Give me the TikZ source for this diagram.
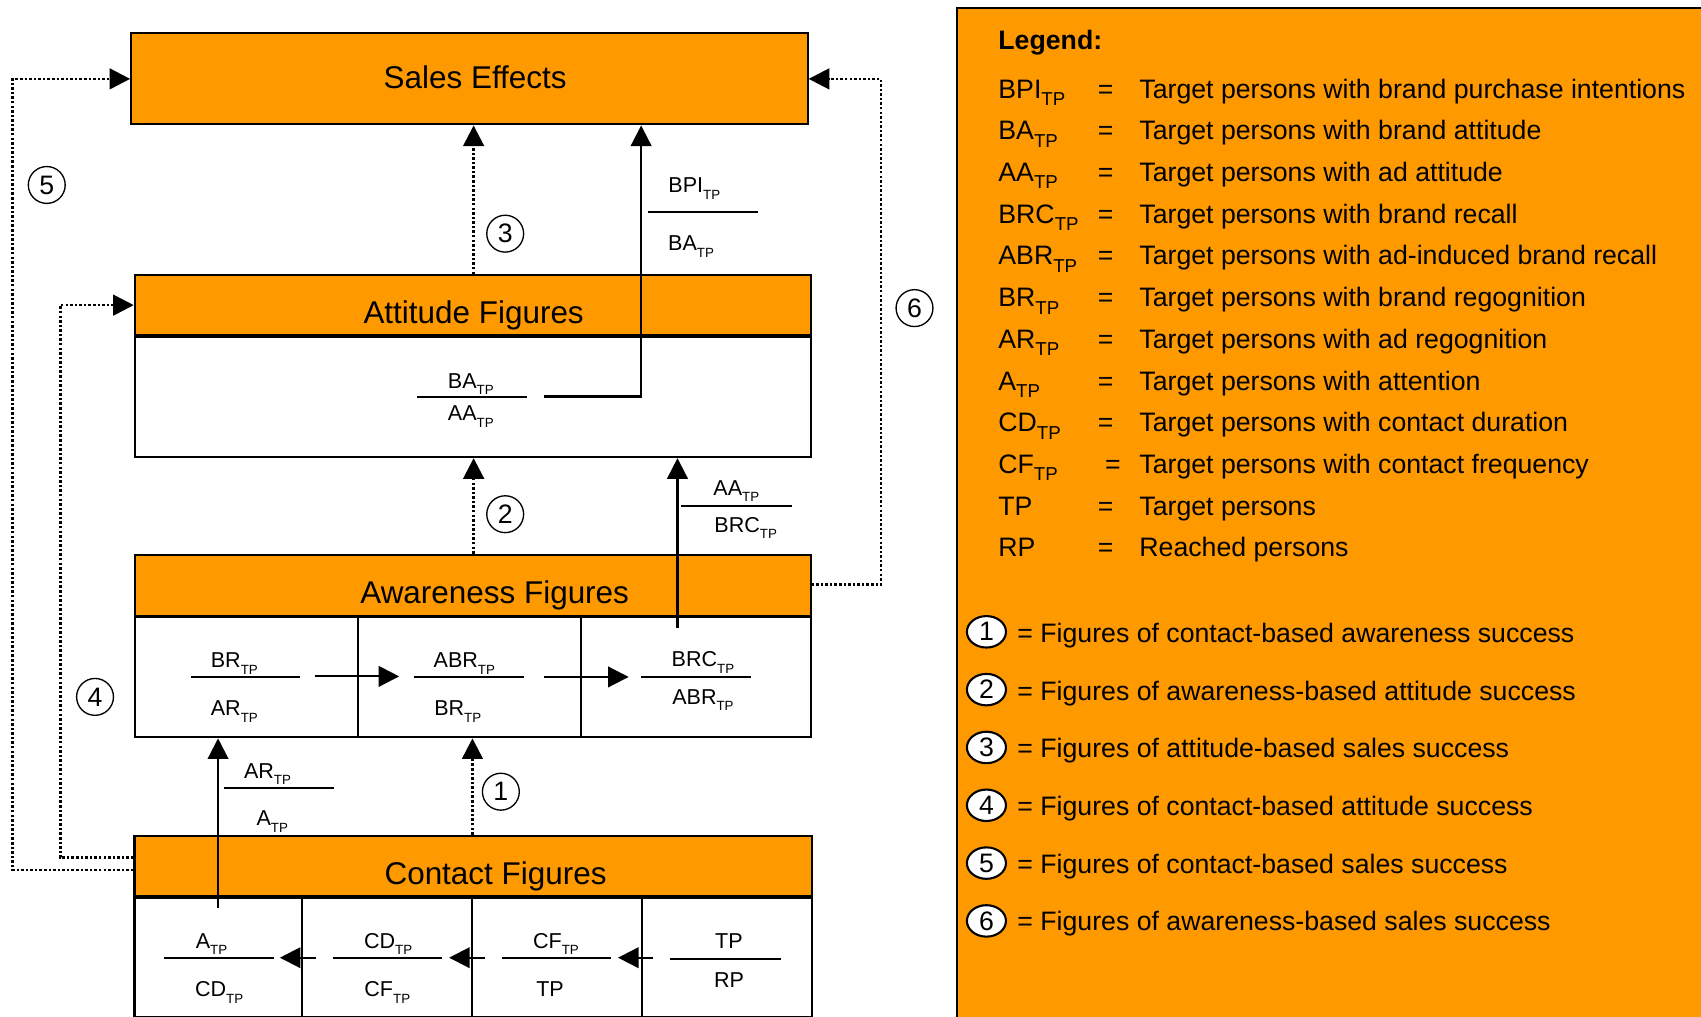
\documentclass[tikz,border=0pt]{standalone}
\usepackage{fontspec}
\setmainfont{Liberation Sans}
\usetikzlibrary{arrows.meta,shapes.geometric}
\definecolor{org}{RGB}{255,153,0}
\newcommand\tps{\raisebox{-3.4pt}{\fontsize{7}{8}\selectfont TP}}
\newcommand\tpl{\raisebox{-3.9pt}{\fontsize{9.8}{10}\selectfont TP}}
\begin{document}
\begin{tikzpicture}[x=0.02cm,y=-0.02cm,
  hdr/.style={draw,fill=org,line width=1.1pt,inner sep=0pt,anchor=north west},
  bodybox/.style={draw,fill=white,line width=1.1pt,inner sep=0pt,anchor=north west},
  sepline/.style={line width=1.8pt},
  divline/.style={line width=1.1pt},
  title/.style={anchor=base,font=\fontsize{16.5}{18}\selectfont,inner sep=0pt},
  fr/.style={anchor=base,font=\fontsize{11.3}{12}\selectfont,inner sep=0pt},
  fline/.style={line width=1.1pt},
  arrtip/.style={-{Triangle[length=0.38cm,width=0.38cm]}},
  solarr/.style={arrtip,line width=1.1pt},
  dotarr/.style={arrtip,line width=1.4pt,dash pattern=on 1.3pt off 1.1pt},
  num/.style={draw,circle,line width=0.7pt,minimum size=0.68cm,inner sep=0pt,font=\fontsize{14}{15}\selectfont},
  lnum/.style={draw,ellipse,fill=white,line width=1.1pt,minimum width=0.72cm,minimum height=0.58cm,inner sep=0pt,font=\fontsize{14}{15}\selectfont},
  leg/.style={anchor=base west,font=\fontsize{14}{15}\selectfont,inner sep=0pt},
  eq/.style={anchor=base,font=\fontsize{14}{15}\selectfont,inner sep=0pt},
]
\useasboundingbox (0,0) rectangle (1568,937);

% ---------- legend panel ----------
\node[draw,fill=org,line width=1pt,anchor=north west,inner sep=0pt,
      minimum width=700*0.02cm,minimum height=950*0.02cm] (legendbox) at (881,6.5) {};
\node[leg] (lgt) at (920,46) {\bfseries Legend:};
\node[leg] (la1) at (920,90.4) {BPI\tpl};   \node[eq] (le1) at (1019.2,90.4) {=};   \node[leg] (ld1) at (1050,90.4) {Target persons with brand purchase intentions};
\node[leg] (la2) at (920,128.85) {BA\tpl};  \node[eq] (le2) at (1019.2,128.85) {=}; \node[leg] (ld2) at (1050,128.85) {Target persons with brand attitude};
\node[leg] (la3) at (920,167.3) {AA\tpl};   \node[eq] (le3) at (1019.2,167.3) {=};  \node[leg] (ld3) at (1050,167.3) {Target persons with ad attitude};
\node[leg] (la4) at (920,205.75) {BRC\tpl}; \node[eq] (le4) at (1019.2,205.75) {=}; \node[leg] (ld4) at (1050,205.75) {Target persons with brand recall};
\node[leg] (la5) at (920,244.2) {ABR\tpl};  \node[eq] (le5) at (1019.2,244.2) {=};  \node[leg] (ld5) at (1050,244.2) {Target persons with ad-induced brand recall};
\node[leg] (la6) at (920,282.65) {BR\tpl};  \node[eq] (le6) at (1019.2,282.65) {=}; \node[leg] (ld6) at (1050,282.65) {Target persons with brand regognition};
\node[leg] (la7) at (920,321.1) {AR\tpl};   \node[eq] (le7) at (1019.2,321.1) {=};  \node[leg] (ld7) at (1050,321.1) {Target persons with ad regognition};
\node[leg] (la8) at (920,359.55) {A\tpl};   \node[eq] (le8) at (1019.2,359.55) {=}; \node[leg] (ld8) at (1050,359.55) {Target persons with attention};
\node[leg] (la9) at (920,398.0) {CD\tpl};   \node[eq] (le9) at (1019.2,398.0) {=};  \node[leg] (ld9) at (1050,398.0) {Target persons with contact duration};
\node[leg] (la10) at (920,436.45) {CF\tpl}; \node[eq] (le10) at (1025.8,436.45) {=}; \node[leg] (ld10) at (1050,436.45) {Target persons with contact frequency};
\node[leg] (la11) at (920,474.9) {TP};      \node[eq] (le11) at (1019.2,474.9) {=}; \node[leg] (ld11) at (1050,474.9) {Target persons};
\node[leg] (la12) at (920,513.35) {RP};     \node[eq] (le12) at (1019.2,513.35) {=}; \node[leg] (ld12) at (1050,513.35) {Reached persons};

\foreach \n/\t [count=\i from 0] in {1/contact-based awareness success,2/awareness-based attitude success,3/attitude-based sales success,4/contact-based attitude success,5/contact-based sales success,6/awareness-based sales success}{
  \node[lnum] (lc\n) at (909.3,{582.4+53.3*\i}) {\n};
  \node[leg] (lt\n) at (937.5,{592.1+53.2*\i}) {= Figures of \t};
}

% ---------- boxes ----------
\node[hdr,minimum width=623.5*0.02cm,minimum height=83.9*0.02cm] (sales) at (120,29.8) {};
\node[title] (salest) at (438,81.4) {Sales Effects};

\node[hdr,minimum width=622.9*0.02cm,minimum height=55.4*0.02cm] (atth) at (123.3,252.6) {};
\node[bodybox,minimum width=622.9*0.02cm,minimum height=112.4*0.02cm] (attb) at (123.3,308) {};
\draw[sepline] (atth.south west) -- (atth.south east);
\node[title] (attt) at (436.6,298) {Attitude Figures};

\node[hdr,minimum width=622.9*0.02cm,minimum height=56.3*0.02cm] (awh) at (123.3,510.3) {};
\node[bodybox,minimum width=622.9*0.02cm,minimum height=112.1*0.02cm] (awb) at (123.3,566.6) {};
\draw[sepline] (awh.south west) -- (awh.south east);
\node[title] (awt) at (456,556) {Awareness Figures};
\coordinate (ad1) at (329.7,0);
\coordinate (ad2) at (535.6,0);
\draw[divline] (ad1 |- awb.north) -- (ad1 |- awb.south);
\draw[divline] (ad2 |- awb.north) -- (ad2 |- awb.south);

\node[hdr,minimum width=624.3*0.02cm,minimum height=55.7*0.02cm] (conth) at (123,769.3) {};
\node[bodybox,minimum width=624.3*0.02cm,minimum height=111.3*0.02cm] (contb) at (123,825) {};
\draw[sepline] (conth.south west) -- (conth.south east);
\node[title] (contt) at (456.8,815) {Contact Figures};
\coordinate (cd1) at (278.4,0);
\coordinate (cd2) at (435,0);
\coordinate (cd3) at (591.6,0);
\draw[divline] (cd1 |- contb.north) -- (cd1 |- contb.south);
\draw[divline] (cd2 |- contb.north) -- (cd2 |- contb.south);
\draw[divline] (cd3 |- contb.north) -- (cd3 |- contb.south);

% ---------- fractions ----------
\node[fr] (f1n) at (434,357.9) {BA\tps};
\draw[fline] (384.7,365.7) -- (486,365.7);
\node[fr] (f1d) at (434,387.8) {AA\tps};

\node[fr] (f2n) at (640,177.6) {BPI\tps};
\draw[fline] (597,195.1) -- (698.5,195.1);
\node[fr] (f2d) at (637,231) {BA\tps};

\node[fr] (f3n) at (678.7,456.7) {AA\tps};
\draw[fline] (628,466.2) -- (730,466.2);
\node[fr] (f3d) at (687.4,490.4) {BRC\tps};

\node[fr] (f4n) at (216,615.5) {BR\tps};
\draw[fline] (176,624) -- (277,624);
\node[fr] (f4d) at (216,660) {AR\tps};

\node[fr] (f5n) at (428,615.5) {ABR\tps};
\draw[fline] (382,624) -- (483,624);
\node[fr] (f5d) at (422,660) {BR\tps};

\node[fr] (f6n) at (648,614.5) {BRC\tps};
\draw[fline] (591,624) -- (692,624);
\node[fr] (f6d) at (648,649) {ABR\tps};

\node[fr] (f7n) at (246.6,717.2) {AR\tps};
\draw[fline] (206.4,726) -- (308,726);
\node[fr] (f7d) at (251,761.4) {A\tps};

\node[fr] (f8n) at (195,874.2) {A\tps};
\draw[fline] (151.5,882.8) -- (252.2,882.8);
\node[fr] (f8d) at (202,918.8) {CD\tps};

\node[fr] (f9n) at (357.8,874.2) {CD\tps};
\draw[fline] (306.8,882.8) -- (407.5,882.8);
\node[fr] (f9d) at (357,918.8) {CF\tps};

\node[fr] (f10n) at (512.5,874.2) {CF\tps};
\draw[fline] (462.5,882.8) -- (563,882.8);
\node[fr] (f10d) at (507,918.8) {TP};

\node[fr] (f11n) at (672,874.2) {TP};
\draw[fline] (618,884.3) -- (720,884.3);
\node[fr] (f11d) at (672,910.5) {RP};

% ---------- connectors ----------
\coordinate (x3) at (436.6,0);
\coordinate (x1) at (435.5,0);
\draw[dotarr] (x3 |- atth.north) -- (x3 |- sales.south);
\draw[dotarr] (x3 |- awh.north) -- (x3 |- attb.south);
\draw[dotarr] (x1 |- conth.north) -- (x1 |- awb.south);

\coordinate (s1) at (501.7,365.5);
\coordinate (s1x) at (591,0);
\draw[solarr] (s1) -| (s1x |- sales.south);
\coordinate (s2) at (624.5,579);
\draw[solarr] (s2) -- (s2 |- attb.south);
\coordinate (s3) at (201,837);
\draw[solarr] (s3) -- (s3 |- awb.south);

\coordinate (h1a) at (290,623.5);   \coordinate (h1b) at (368,623.5);
\coordinate (h2a) at (501.6,624);   \coordinate (h2b) at (579.5,624);
\draw[solarr] (h1a) -- (h1b);
\draw[solarr] (h2a) -- (h2b);
\coordinate (g1a) at (291,882.8);   \coordinate (g1b) at (258,882.8);
\coordinate (g2a) at (447,882.8);   \coordinate (g2b) at (414,882.8);
\coordinate (g3a) at (602,882.8);   \coordinate (g3b) at (569.7,882.8);
\draw[solarr] (g1a) -- (g1b);
\draw[solarr] (g2a) -- (g2b);
\draw[solarr] (g3a) -- (g3b);

\coordinate (l5) at (11.6,802);
\draw[dotarr] (l5 -| conth.west) -- (l5) |- (sales.west);
\coordinate (l4) at (55.5,790.7);
\draw[dotarr] (l4 -| conth.west) -- (l4) |- (atth.west);
\coordinate (l6) at (812,538.8);
\draw[dotarr] (l6 -| awh.east) -- (l6) |- (sales.east);

% ---------- circled numbers ----------
\node[num] (n3) at (465.7,215.4) {3};
\node[num] (n2) at (465.7,474) {2};
\node[num] (n1) at (461.7,729.8) {1};
\node[num] (n5) at (43.1,170.5) {5};
\node[num] (n4) at (87.6,642.4) {4};
\node[num] (n6) at (843,284) {6};
\end{tikzpicture}
\end{document}
